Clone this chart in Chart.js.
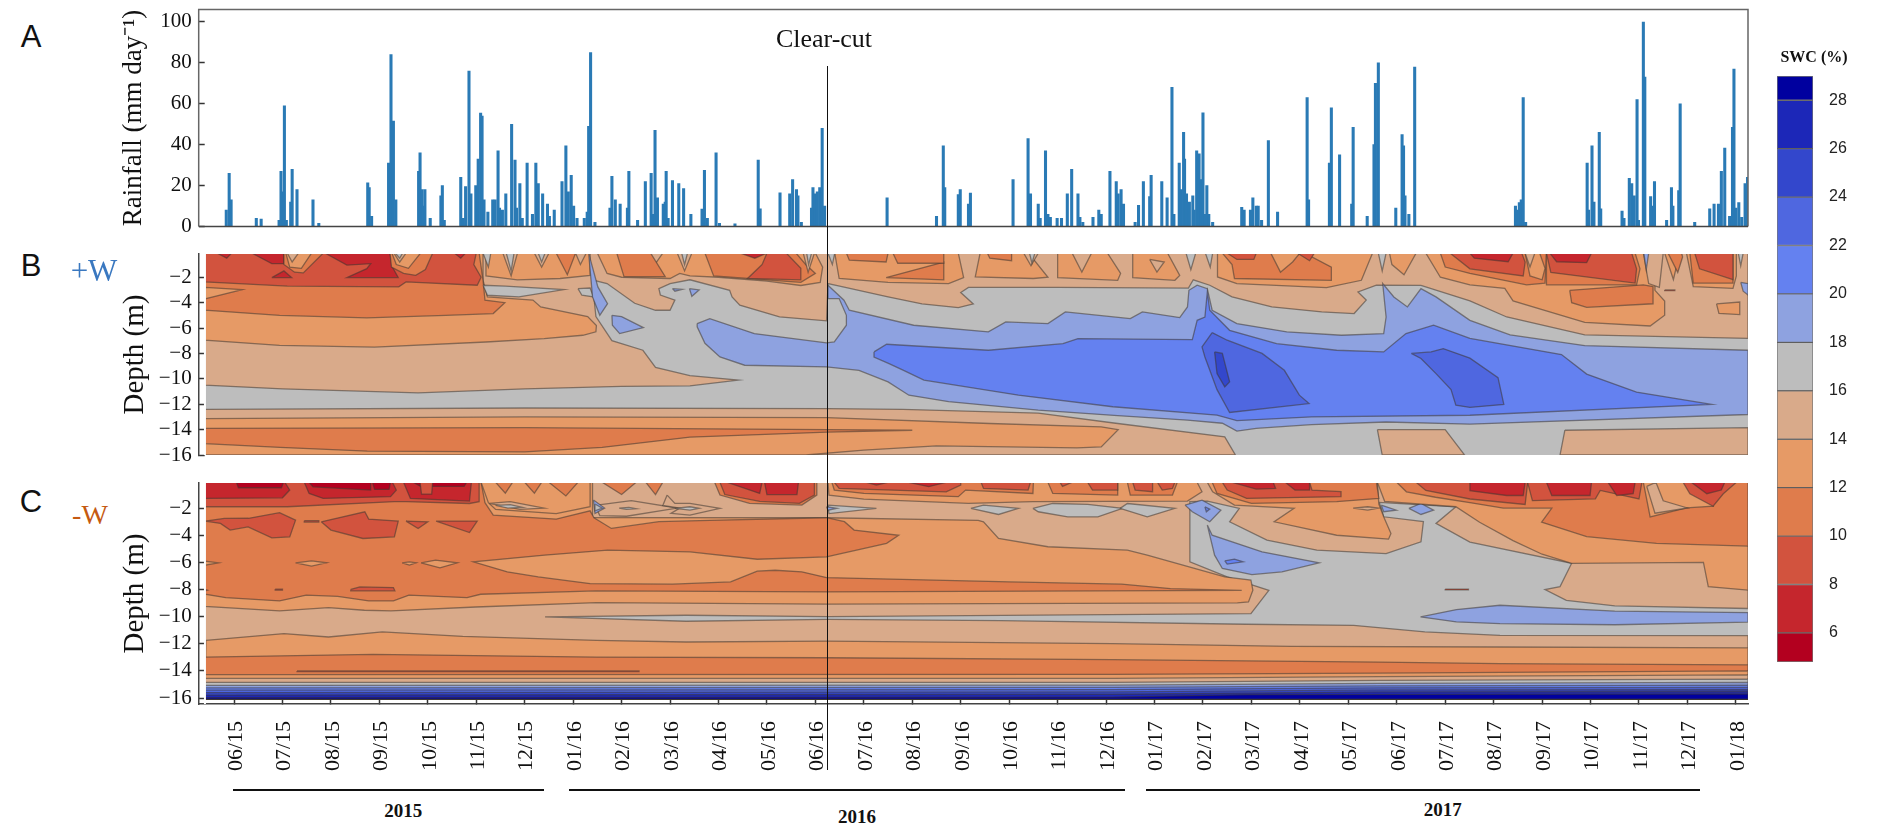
<!DOCTYPE html>
<html>
<head>
<meta charset="utf-8">
<script src="https://cdn.jsdelivr.net/npm/chart.js@4/dist/chart.umd.min.js"></script>
<style>
html, body { margin: 0; padding: 0; background: #fff; overflow: hidden; }
body { width: 1879px; height: 827px; position: relative; font-family: "Liberation Serif", serif; color: #111; }
canvas { position: absolute; }
.txt { position: absolute; white-space: nowrap; transform: translate(-50%, -50%); }
.bar { position: absolute; background: #111; }
</style>
</head>
<body>
<canvas id="rainChart" style="left:118px;top:0"></canvas>
<canvas id="plusChart" style="left:118px;top:244px"></canvas>
<canvas id="minusChart" style="left:118px;top:470px"></canvas>
<canvas id="scaleChart" style="left:1770px;top:60px"></canvas>

<div class="txt" style="left:31px;top:37px;font:31px 'Liberation Sans'">A</div>
<div class="txt" style="left:31px;top:266px;font:31px 'Liberation Sans'">B</div>
<div class="txt" style="left:31px;top:502px;font:31px 'Liberation Sans'">C</div>
<div class="txt" style="left:94px;top:271px;font-size:31px;color:#3a78c0">+W</div>
<div class="txt" style="left:90px;top:515px;font-size:28px;color:#c55a11">-W</div>
<div class="txt" style="left:824px;top:39px;font-size:26px">Clear-cut</div>
<div class="txt" style="left:1814px;top:57px;font-size:16px;font-weight:bold">SWC (%)</div>
<div id="yearText"></div>

<script>
// month axis: 0 = 06/15, one unit = one month
var monthLabels = ['06/15','07/15','08/15','09/15','10/15','11/15','12/15','01/16','02/16','03/16','04/16','05/16','06/16','07/16','08/16','09/16','10/16','11/16','12/16','01/17','02/17','03/17','04/17','05/17','06/17','07/17','08/17','09/17','10/17','11/17','12/17','01/18'];
var monthTicks = monthLabels.map(function (l, i) { return i; });
var rainTicks = [0, 20, 40, 60, 80, 100];
var depthTicks = [-16, -14, -12, -10, -8, -6, -4, -2];
var swcTicks = [6, 8, 10, 12, 14, 16, 18, 20, 22, 24, 26, 28];
var swcEdges = [4.8, 6, 8, 10, 12, 14, 16, 18, 20, 22, 24, 26, 28, 29];
var bandColors = ['#b3001f', '#c5262d', '#d2533e', '#df7c4c', '#e69a66', '#d9aa8a', '#bdbdbd', '#8ea2e0', '#6481f0', '#4f67e0', '#3347cc', '#1c27b8', '#00009f'];

var clearCutMonth = 12.24;
var yearNames = ['2015', '2016', '2017'];
var yearStart = [-0.03, 6.91, 18.82];
var yearEnd = [6.4, 18.4, 30.25];

var rainMonth = [-0.16,-0.10,-0.06,0.46,0.56,0.93,0.97,1.01,1.04,1.08,1.17,1.20,1.30,1.63,1.75,2.76,2.79,2.84,3.19,3.24,3.29,3.34,3.81,3.84,3.88,3.91,3.94,4.05,4.27,4.30,4.34,4.68,4.73,4.78,4.85,4.89,4.99,5.04,5.09,5.12,5.16,5.24,5.34,5.39,5.45,5.48,5.54,5.61,5.73,5.80,5.83,5.90,5.95,6.05,6.16,6.23,6.28,6.37,6.47,6.51,6.61,6.77,6.85,6.90,6.96,7.01,7.08,7.23,7.29,7.32,7.36,7.45,7.76,7.80,7.87,7.97,8.12,8.15,8.33,8.49,8.61,8.65,8.69,8.74,8.86,8.90,8.92,8.96,9.05,9.18,9.28,9.43,9.66,9.71,9.77,9.95,10.02,10.34,10.82,10.86,11.27,11.47,11.53,11.61,11.64,11.71,11.92,11.95,11.99,12.04,12.09,12.14,12.19,13.48,14.50,14.64,14.67,14.95,14.99,15.16,15.20,16.08,16.39,16.44,16.60,16.64,16.75,16.80,16.85,16.99,17.08,17.20,17.29,17.42,17.46,17.52,17.73,17.85,17.90,18.08,18.21,18.25,18.31,18.36,18.60,18.67,18.77,18.90,18.93,19.15,19.26,19.36,19.40,19.51,19.55,19.60,19.62,19.66,19.72,19.79,19.82,19.87,19.92,19.97,20.00,20.04,20.08,20.12,20.20,20.80,20.85,20.98,21.03,21.10,21.14,21.21,21.35,21.54,22.15,22.18,22.61,22.65,22.82,23.07,23.10,23.39,23.53,23.56,23.62,23.98,24.11,24.14,24.17,24.25,24.37,26.45,26.48,26.53,26.57,26.61,26.66,27.93,27.96,28.03,28.07,28.18,28.21,28.65,28.69,28.80,28.85,28.90,28.96,28.99,29.09,29.12,29.24,29.27,29.32,29.57,29.67,29.70,29.82,29.85,30.15,30.46,30.55,30.64,30.70,30.77,30.87,30.93,30.96,31.00,31.06,31.12,31.19,31.24];
var rainMm = [8,26,13,4,3.6,3,27,17,59,3,12,28,18,13,1.6,21.3,19,5,31,84,51.5,13,27,36,18,10,18,4,15,20,3,24,4,19.5,76,16,20,33,55.5,54,13,7,13,13,37,9,8,16,50,32.5,9,21,4,31,6,31,21,16,11,5,8,22,39.5,17,25,10,4,4,7,49,85,2,9,24.5,13,11,9,27,3,22,26,6,47,14,11,12,27,4,22.5,21,18.5,6,8.5,27.5,4,36,1.6,1.3,32.5,8.6,16.5,16,23,18,15,2,9,19,16,17,19,48,10,14,5,39.5,19,15.6,18,11,16.4,23,43,16,11,4,37,6,4.5,4,4,16,28,16,4.5,2,4.5,8,6,27,22,16,18,11,2,10.4,22,14.6,25,22,14,68,6,31,18,46,33,16,12,15,8,37,35.5,23,55.6,6,20,6,2,9.4,8,8,14,10,10,3,42,7,63,13,31,58,35,11,48.5,5,40,70,80,9,45,39.5,15,6,78,10,8,11.7,13,63,2,31,8,39.5,12,46,8.6,7.5,4,23.6,21,15,62,3,100,73,14.6,10,22,3,19,10,17.6,60,2,8.6,11,11,27,38.4,5,48.5,77,9,11.7,4.5,21,24];

// SWC contour regions: [lower band limit, [[month, depth], ...]], painted in order
var contourPlus = [
  [16, [[-0.6,-0.1],[31.25,-0.1],[31.25,-16],[-0.6,-16]]],
  [14, [[-0.6,-0.1],[-0.6,-10.5],[1,-10.8],[3.8,-11.1],[6,-10.8],[8,-10.6],[9.41,-10.55],[10.41,-10.1],[9.41,-9.75],[8.7,-9.1],[8.44,-7.75],[7.8,-7],[7.47,-5.1],[7.39,-2.2],[7.7,-2.5],[8.27,-4.05],[8.7,-4.6],[9,-4.6],[9.1,-3.8],[8.8,-3.4],[8.77,-2.9],[9,-2.5],[9.41,-2.2],[10.23,-3.03],[10.28,-3.55],[10.44,-4.2],[11.26,-5.13],[12.23,-5.44],[12.26,-2.5],[12.5,-2.7],[13.5,-3.55],[14.2,-4.1],[14.95,-4.4],[15.26,-4.1],[15,-3.2],[15.16,-2.8],[17,-2.8],[19.7,-2.85],[19.8,-2.2],[20.14,-2.63],[20.6,-3.55],[21.42,-4.34],[22.45,-4.73],[23.12,-4.86],[23.37,-3.8],[23.2,-3.16],[23.58,-2.63],[24.5,-2.64],[25.51,-3.87],[26.27,-5.13],[27.88,-6.54],[31.25,-6.82],[31.25,-0.1]]],
  [14, [[-0.6,-12.4],[6,-12.3],[12.24,-12.34],[13.8,-12.4],[16.6,-12.7],[18.2,-13.5],[20.45,-14.57],[20.67,-16],[-0.6,-16]]],
  [14, [[23.6,-14],[25,-14],[25.4,-16],[23.7,-16]]],
  [14, [[27.47,-14.05],[31.25,-13.85],[31.25,-16],[27.37,-16]]],
  [12, [[-0.6,-13.13],[6,-13],[12.24,-13.05],[15.6,-13.52],[17.9,-13.78],[18.25,-14],[17.9,-15.36],[17.4,-15.44],[14.5,-15.28],[13,-15.62],[11.8,-16],[-0.6,-16]]],
  [10, [[-0.6,-13.9],[6,-13.85],[12.24,-14],[14,-14.05],[12.24,-14.2],[9.41,-14.6],[7.6,-15.4],[6,-15.75],[2.75,-15.7],[0.95,-15.4],[-0.6,-15.1]]],
  // dry block before the first wet season
  [12, [[-0.6,-0.1],[-0.6,-6.96],[0.94,-7.36],[2.9,-7.5],[5.2,-7.1],[6.4,-6.83],[7.2,-6.57],[7.47,-6.3],[7.48,-5.8],[7.3,-5.1],[6.33,-4.34],[6.17,-3.8],[5.23,-3.55],[5.14,-2.24],[5.14,-0.1]]],
  [10, [[-0.6,-0.1],[-0.6,-4.6],[0.94,-5],[2.74,-5.2],[4.37,-5],[5.35,-4.86],[5.59,-4],[5.18,-3.8],[5.14,-2.24],[5.06,-0.1]]],
  [12, [[-0.6,-2.8],[0.17,-2.98],[-0.6,-3.7]]],
  [8, [[-0.6,-0.1],[-0.6,-2.37],[1.1,-2.7],[3.4,-2.76],[3.55,-2.37],[5.02,-2.63],[5.1,-2],[4.95,-1],[5,-0.1]]],
  [6, [[-0.35,-0.1],[-0.15,-0.5],[-0.05,-0.1]]],
  [6, [[0.37,-0.1],[0.78,-0.93],[1.03,-0.93],[1.03,-0.1]]],
  [6, [[0.78,-2.03],[1.19,-2.03],[1.03,-1.5]]],
  [6, [[1.88,-0.1],[2.33,-1.05],[2.82,-0.93],[2.74,-1.32],[2.33,-2.03],[3.39,-2.03],[3.27,-1.2],[3.22,-0.1]]],
  [6, [[4.55,-0.1],[4.68,-0.5],[4.78,-0.1]]],
  [10, [[1.03,-0.1],[1.03,-1],[1.25,-1.6],[1.43,-1.66],[1.84,-0.1]]],
  [12, [[1.07,-0.1],[1.15,-1.2],[1.39,-1.3],[1.6,-0.1]]],
  [14, [[1.1,-0.1],[1.2,-0.8],[1.33,-0.1]]],
  [10, [[3.22,-0.1],[3.25,-1.2],[3.5,-1.7],[3.75,-1.85],[3.95,-1.4],[4.1,-0.1]]],
  [12, [[3.26,-0.1],[3.35,-1],[3.6,-1.3],[3.85,-0.1]]],
  [14, [[3.3,-0.1],[3.42,-0.8],[3.55,-0.1]]],
  [16, [[3.33,-0.1],[3.42,-0.5],[3.48,-0.1]]],
  // rewetted top, 2016 dry season blocks
  [12, [[5.2,-0.1],[5.2,-1.9],[5.85,-2.2],[6.73,-2.1],[7.35,-1.85],[7.35,-0.1]]],
  [14, [[5.55,-0.1],[5.72,-1.9],[5.85,-0.1]]],
  [14, [[6.2,-0.1],[6.35,-1.2],[6.5,-0.1]]],
  [14, [[7.05,-0.1],[7.15,-1],[7.27,-0.1]]],
  [10, [[6.65,-0.1],[6.88,-1.8],[7.05,-0.1]]],
  [16, [[5.14,-0.1],[5.25,-1.2],[5.3,-0.1]]],
  [16, [[5.62,-0.1],[5.72,-1.5],[5.78,-0.1]]],
  [16, [[6.28,-0.1],[6.35,-0.8],[6.42,-0.1]]],
  [16, [[5.14,-2.63],[5.6,-2.7],[6.81,-2.97],[5.88,-3.55],[5.23,-3.42]]],
  [16, [[7.1,-2.9],[7.35,-2.85],[7.42,-3.55],[7.18,-3.42]]],
  [18, [[7.32,-0.1],[7.51,-2.76],[7.71,-4.08],[7.55,-5],[7.4,-3.55]]],
  [18, [[7.8,-5],[8,-5.1],[8.45,-5.97],[7.96,-6.44],[7.81,-5.78]]],
  [18, [[9.05,-2.9],[9.25,-2.95],[9.1,-3.1]]],
  [18, [[9.4,-2.9],[9.6,-3],[9.45,-3.5]]],
  [12, [[7.5,-0.1],[7.7,-1.7],[8,-2],[9,-2.1],[9.2,-1.7],[9.41,-1.9],[10,-2],[11,-2.3],[11.7,-2.65],[12.1,-2.4],[12.15,-1.2],[12,-0.1]]],
  [14, [[8.5,-0.1],[8.65,-1.2],[8.85,-0.1]]],
  [14, [[9.15,-0.1],[9.3,-1.5],[9.45,-0.1]]],
  [16, [[9.24,-0.1],[9.3,-1],[9.36,-0.1]]],
  [10, [[7.9,-0.1],[8.05,-1.95],[8.9,-1.95],[8.6,-0.1]]],
  [10, [[9.72,-0.1],[9.9,-1.9],[10.6,-2.1],[11.7,-2.4],[12,-1.7],[11.8,-1],[11.6,-0.1]]],
  [8, [[10.9,-1],[10.6,-2.1],[11.7,-2.2],[11.7,-1.3],[11.4,-0.1],[11,-0.1]]],
  [6, [[10.45,-0.1],[10.75,-0.5],[11,-0.1]]],
  [14, [[11.75,-0.1],[11.85,-1.6],[11.98,-0.1]]],
  [16, [[11.82,-0.1],[11.86,-1],[11.92,-0.1]]],
  [12, [[12.4,-0.1],[12.49,-2.1],[13.5,-2.4],[14.75,-2.5],[15.06,-2.03],[14.95,-0.1]]],
  [10, [[12.64,-0.1],[12.7,-0.66],[13.46,-0.8],[13.5,-0.1]]],
  [10, [[13.46,-2.03],[14.65,-2.2],[14.65,-0.8]]],
  [10, [[13.6,-0.1],[13.7,-0.9],[14.65,-0.9],[14.65,-0.1]]],
  [12, [[15.4,-0.1],[15.3,-1.98],[16.5,-2.1],[16.8,-2],[16.4,-0.1]]],
  [10, [[15.55,-0.1],[15.6,-0.5],[16.05,-0.7],[16.05,-0.1]]],
  [14, [[16.3,-0.1],[16.45,-1.1],[16.6,-0.1]]],
  [16, [[16.42,-0.1],[16.47,-0.9],[16.53,-0.1]]],
  [12, [[17,-0.1],[17,-2.03],[18.24,-2.24],[18.3,-1.7],[18.03,-0.1]]],
  [14, [[17.3,-0.1],[17.5,-1.6],[17.7,-0.1]]],
  [12, [[18.55,-0.1],[18.55,-2.03],[19.42,-2.24],[19.52,-1.85],[19.27,-0.1]]],
  [14, [[18.9,-0.6],[19.05,-1.6],[19.2,-0.8]]],
  [16, [[12.26,-0.1],[12.35,-1],[12.4,-0.1]]],
  [16, [[19.65,-0.1],[19.75,-1.4],[19.85,-0.1]]],
  [16, [[20.05,-0.1],[20.15,-1.2],[20.2,-0.1]]],
  [12, [[20.3,-0.1],[20.3,-1.98],[20.7,-2.5],[22.55,-2.82],[23.27,-2.24],[23.5,-0.1]]],
  [10, [[20.4,-0.1],[20.6,-1],[20.65,-2.1],[22.65,-2.24],[22.65,-1.2],[22.1,-0.1]]],
  [12, [[21.4,-0.1],[21.6,-1.6],[21.85,-0.8],[22,-0.1]]],
  [8, [[20.5,-0.1],[20.7,-0.6],[21.05,-0.6],[21.1,-0.1]]],
  [8, [[21.95,-0.1],[22.2,-0.7],[22.3,-0.1]]],
  [16, [[23.62,-0.1],[23.7,-1.5],[23.78,-0.1]]],
  [12, [[23.85,-0.1],[23.9,-1],[24.15,-1.8],[24.4,-0.1]]],
  // rising wet layers, painted from outer to inner
  [18, [[9.56,-5.65],[9.82,-5.26],[10.74,-6.44],[12.23,-7.17],[12.39,-7.1],[12.64,-5.78],[12.64,-5],[12.49,-3.68],[12.26,-3.68],[12.26,-2.63],[12.59,-3.81],[12.7,-4.6],[14.03,-5.78],[15.57,-6.3],[15.93,-5.52],[16.8,-5.65],[17.16,-4.73],[18.5,-5.26],[18.75,-4.73],[19.52,-5.18],[19.68,-4.34],[19.71,-3.03],[19.88,-2.63],[20.09,-2.9],[20.19,-4.6],[20.7,-5.65],[21.73,-6.3],[22.86,-6.57],[23.73,-6.44],[23.78,-5.13],[23.71,-2.5],[23.94,-3.55],[24.22,-4.34],[24.5,-2.9],[24.81,-3.55],[25.51,-5.4],[26.34,-6.54],[27.88,-7.38],[31.25,-7.75],[31.25,-12.81],[25.51,-13.57],[23.78,-13.4],[22.24,-13.6],[21.1,-13.9],[20.7,-14.12],[20.4,-13.5],[19.68,-13.26],[18.24,-12.9],[16.6,-12.47],[14.75,-11.8],[13.93,-11.29],[13.5,-10.24],[12.9,-9.33],[12.23,-9.06],[10.54,-8.93],[10.03,-8.28],[9.72,-7.2],[9.56,-5.9]]],
  [20, [[13.21,-7.88],[13.47,-7.28],[15.57,-7.75],[17.11,-7.23],[17.42,-6.83],[19.78,-6.91],[19.88,-5.39],[20.04,-5.13],[20.09,-3.16],[20.14,-4.6],[20.55,-6.18],[21.52,-7.23],[22.76,-7.75],[23.73,-7.88],[24.19,-6.44],[24.76,-5.78],[25.51,-6.82],[27.4,-8.09],[27.92,-9.63],[28.95,-11.04],[30.5,-12.02],[25.51,-12.87],[22.24,-13],[20.7,-13.3],[20.29,-12.86],[18.14,-12.2],[16.19,-11.29],[14.24,-10.1],[13.82,-9.33],[13.52,-8.8],[13.21,-8.28]]],
  [22, [[20.19,-6.36],[19.98,-7.49],[20.04,-8.28],[20.29,-10.85],[20.55,-12.65],[22.19,-11.95],[21.99,-11.29],[21.68,-9.33],[21.22,-8],[20.5,-6.96]]],
  [22, [[24.3,-8],[24.5,-8.4],[24.81,-9.59],[25.12,-10.85],[25.22,-12.08],[25.51,-12.25],[26.21,-12.02],[26.09,-9.91],[25.51,-8.37],[24.96,-7.62],[24.71,-7.88]]],
  [24, [[20.24,-7.88],[20.4,-8],[20.55,-10.24],[20.45,-10.64],[20.29,-9.59]]],
  // 2017 block at the right end
  [12, [[24.6,-0.1],[24.9,-2],[25.51,-2.6],[26.23,-2.88],[26.4,-3.87],[27.88,-5.56],[29.23,-5.84],[29.53,-4.99],[29.53,-3.87],[29.33,-3.03],[29.33,-0.1]]],
  [10, [[24.9,-0.1],[25,-1.2],[25.51,-1.7],[26.68,-2.6],[27.06,-2.46],[27.09,-0.1]]],
  [8, [[25.1,-0.1],[25.51,-1.34],[26.61,-1.9],[26.65,-0.8],[26.58,-0.1]]],
  [6, [[25.51,-0.1],[25.6,-0.5],[26.3,-0.78],[26.4,-0.1]]],
  [12, [[26.65,-0.1],[26.75,-1.9],[27,-2.2],[27.06,-1.3],[26.95,-0.1]]],
  [14, [[26.65,-0.1],[26.75,-1.2],[26.85,-0.1]]],
  [10, [[27.57,-3.03],[27.61,-4],[27.92,-4.37],[29.29,-4.09],[29.29,-2.74],[29.09,-2.6]]],
  [10, [[27.09,-0.1],[27.09,-2.6],[28.95,-2.6],[29.02,-1.34],[28.92,-0.1]]],
  [8, [[27.09,-0.1],[27.18,-1.62],[28.92,-2.46],[28.95,-1.34],[28.85,-0.1]]],
  [6, [[27.16,-0.1],[27.3,-0.78],[27.92,-0.85],[28.02,-0.1]]],
  [14, [[29.09,-0.1],[29.2,-2.5],[29.42,-2.8],[29.5,-0.1]]],
  [18, [[29.1,-0.1],[29.15,-1.4],[29.2,-0.1]]],
  [12, [[29.53,-0.1],[29.71,-2.18],[29.84,-0.1]]],
  [10, [[29.6,-0.1],[29.8,-1.62],[29.9,-0.4],[29.88,-0.1]]],
  [12, [[29.98,-0.1],[30.12,-2.74],[30.94,-2.88],[31.01,-1.9],[31.01,-0.1]]],
  [10, [[30.05,-0.1],[30.12,-2.46],[30.94,-2.46],[30.94,-0.1]]],
  [8, [[30.15,-0.1],[30.25,-1.34],[30.94,-2.18],[30.94,-0.1]]],
  [16, [[31.05,-0.1],[31.1,-1.1],[31.15,-0.1]]],
  [18, [[31.1,-2.4],[31.25,-2.5],[31.25,-3.4],[31.15,-3.1]]],
  [12, [[30.6,-4.1],[31.08,-3.95],[31.08,-4.94],[30.65,-4.85]]],
  [8, [[29.53,-3],[29.74,-3],[29.74,-3.06],[29.53,-3.06]]]
];

var contourMinus = [
  [16, [[-0.6,-0.1],[31.25,-0.1],[31.25,-16.08],[-0.6,-16.08]]],
  [14, [[-0.6,-0.1],[-0.6,-16.08],[31.25,-16.08],[31.25,-11.4],[26.13,-11.38],[24.58,-11.13],[23.11,-10.64],[20.9,-10.56],[15.83,-10.3],[12.25,-10.2],[9.33,-10.34],[6.42,-10.02],[9.33,-9.9],[12.25,-10],[20.99,-9.78],[21.36,-8.06],[20.5,-7.07],[19.73,-5.96],[19.73,-3.01],[19.73,-1.53],[20.09,-1.48],[20.75,-2.02],[20.55,-3.01],[21.32,-4.36],[22.35,-5.1],[23.78,-5.35],[24.5,-4.48],[24.55,-3],[23.73,-2.64],[23.64,-1.58],[25.22,-1.9],[24.81,-3.13],[25.51,-4.5],[27.61,-6.07],[27.37,-7.79],[27.06,-8],[27.5,-8.8],[28.5,-9.2],[31.25,-9.4],[31.25,-0.1]]],
  [18, [[24.49,-10.02],[25.23,-9.48],[26.13,-9.16],[28.5,-9.6],[31.25,-9.7],[31.25,-10.4],[28.5,-10.6],[26.13,-10.52],[25.23,-10.39]]],
  [8, [[25,-7.97],[25.48,-7.97],[25.48,-8.03],[25,-8.03]]],
  [12, [[-0.58,-11.75],[1.03,-11.25],[1.95,-11.5],[3.06,-11.13],[4.72,-11.45],[7.48,-11.75],[9.33,-11.87],[12.25,-11.8],[18.13,-11.99],[21.82,-12.19],[26.13,-12.24],[31.25,-12.3],[31.25,-16.08],[-0.6,-16.08]]],
  [10, [[-0.6,-12.98],[2.87,-12.78],[7.48,-12.98],[12.25,-13.03],[18.13,-13.17],[23.66,-13.35],[26.13,-13.47],[31.25,-13.55],[31.25,-16.08],[-0.6,-16.08]]],
  [8, [[1.3,-14],[8.36,-14],[8.36,-14.06],[1.3,-14.06]]],
  [12, [[-0.6,-14.27],[18.13,-14.26],[23.66,-14.16],[31.25,-14],[31.25,-16.08],[-0.6,-16.08]]],
  [14, [[-0.6,-14.55],[18.13,-14.55],[23.66,-14.42],[31.25,-14.3],[31.25,-16.08],[-0.6,-16.08]]],
  [16, [[-0.6,-14.85],[18.13,-14.85],[23.66,-14.7],[31.25,-14.6],[31.25,-16.08],[-0.6,-16.08]]],
  [18, [[-0.6,-15.07],[18.13,-15.05],[23.66,-14.92],[31.25,-14.85],[31.25,-16.08],[-0.6,-16.08]]],
  [20, [[-0.6,-15.25],[18.13,-15.22],[23.66,-15.1],[31.25,-15.05],[31.25,-16.08],[-0.6,-16.08]]],
  [22, [[-0.6,-15.42],[18.13,-15.38],[23.66,-15.25],[31.25,-15.22],[31.25,-16.08],[-0.6,-16.08]]],
  [24, [[-0.6,-15.6],[18.13,-15.55],[23.66,-15.4],[31.25,-15.38],[31.25,-16.08],[-0.6,-16.08]]],
  [26, [[-0.6,-15.78],[18.13,-15.72],[23.66,-15.55],[31.25,-15.52],[31.25,-16.08],[-0.6,-16.08]]],
  [28, [[-0.6,-15.97],[18.13,-15.93],[20.9,-15.75],[31.25,-15.7],[31.25,-16.08],[-0.6,-16.08]]],
  // orange layer, then the 10-12 core above it
  [12, [[-0.6,-0.1],[-0.6,-9.24],[0.94,-9.58],[1.95,-9.34],[2.69,-9.53],[3.24,-9.58],[4.99,-9.29],[7.48,-8.97],[12.25,-9.08],[20.71,-8.99],[20.94,-8.92],[21.03,-8.06],[20.99,-7.3],[20.45,-7.07],[18.85,-5.47],[18.44,-5.1],[16.8,-4.85],[15.78,-4.24],[15.47,-3.01],[15.36,-2.9],[12.23,-2.71],[7.4,-2.7],[7.4,-0.1]]],
  [10, [[-0.6,-0.1],[-0.6,-8.35],[-0.17,-8.6],[0.94,-8.84],[1.49,-8.42],[2.14,-8.5],[2.78,-8.84],[3.29,-8.84],[3.61,-8.42],[4.81,-8.6],[5.09,-8.35],[7.48,-8.1],[12.23,-8.18],[20.8,-8.06],[19.33,-7.93],[18.32,-7.61],[16.01,-7.44],[12.23,-7.12],[11.72,-6.7],[11.17,-6.58],[10.8,-6.65],[10.25,-7.44],[9.05,-7.61],[7.35,-7.56],[6.28,-7.07],[5.64,-6.7],[4.94,-5.96],[6.41,-5.47],[7.71,-5.1],[9.41,-5.22],[10.8,-5.77],[12.23,-5.59],[13.47,-4.6],[13.72,-4],[12.8,-3.62],[12.6,-3],[12.23,-2.71],[9.82,-2.9],[8.77,-3],[7.79,-3.5],[7.43,-2.71],[7.35,-2.2],[6.65,-2.81],[5.35,-2.52],[5.18,-1.6],[5.1,-0.1]]],
  [8, [[-0.6,-8],[-0.55,-8.05],[-0.6,-8.1]]],
  [8, [[0.85,-7.97],[1,-7.97],[1,-8.05],[0.85,-8.05]]],
  [8, [[2.41,-8],[2.6,-7.81],[3.29,-7.86],[3.32,-8.1],[2.41,-8.1]]],
  [12, [[-0.6,-5.91],[-0.32,-6.03],[-0.6,-6.21]]],
  [12, [[1.27,-6.03],[1.6,-5.89],[1.91,-6.03],[1.6,-6.28]]],
  [12, [[3.47,-6.03],[3.62,-5.96],[3.76,-6.03],[3.62,-6.2]]],
  [12, [[3.86,-6.03],[4.16,-5.84],[4.61,-6.03],[4.25,-6.4]]],
  [8, [[-0.6,-2.96],[-0.2,-2.76],[0.3,-2.75],[0.94,-2.34],[1.27,-2.89],[1.15,-4.12],[0.78,-4.19],[0.29,-3.38],[-0.08,-3.62],[-0.28,-3.13]]],
  [8, [[1.45,-2.93],[1.75,-2.93],[1.75,-3.03],[1.45,-3.03]]],
  [8, [[1.8,-3.01],[2.7,-2.27],[2.78,-2.81],[3.39,-2.96],[3.31,-4.12],[2.66,-4.24],[2,-3.62]]],
  [8, [[3.55,-2.96],[4,-3.01],[3.8,-3.5]]],
  [8, [[4.17,-2.96],[5.02,-2.96],[4.86,-3.8]]],
  // red surface layer, first dry season
  [8, [[-0.6,-0.1],[-0.6,-1.9],[1.1,-1.9],[3.31,-1.53],[3.55,-1.53],[4.86,-1.66],[5.06,-1.53],[5.06,-0.1]]],
  [6, [[-0.6,-0.1],[-0.6,-1.29],[1,-1.24],[1.15,-0.67],[1.05,-0.1]]],
  [6, [[1.45,-0.1],[1.55,-0.92],[1.84,-1.29],[3.23,-1.16],[3.35,-0.67],[3.27,-0.1]]],
  [6, [[3.5,-0.1],[3.64,-1.29],[4.86,-1.48],[4.9,-0.1]]],
  [4.8, [[0.05,-0.1],[0.09,-0.5],[0.98,-0.5],[1.02,-0.1]]],
  [4.8, [[1.55,-0.1],[1.63,-0.43],[2.82,-0.67],[2.82,-0.1]]],
  [4.8, [[2.86,-0.1],[2.9,-0.62],[3.2,-0.62],[3.23,-0.1]]],
  [4.8, [[3.7,-0.1],[3.85,-0.4],[4.75,-0.4],[4.8,-0.1]]],
  [8, [[3.84,-0.1],[3.87,-0.97],[4.08,-0.97],[4.1,-0.1]]],
  // between first crack and clear-cut
  [12, [[5.1,-0.1],[5.25,-1.6],[5.4,-2.1],[6.65,-2.4],[7.35,-1.9],[7.35,-0.1]]],
  [14, [[5.27,-1.65],[5.7,-1.53],[6.4,-2],[5.9,-2.1]]],
  [16, [[5.4,-1.8],[5.7,-1.75],[5.95,-1.95],[5.65,-2]]],
  [10, [[5.4,-0.1],[5.6,-0.9],[5.75,-0.1]]],
  [10, [[6,-0.1],[6.2,-0.9],[6.35,-0.1]]],
  [10, [[6.5,-0.1],[6.85,-1.1],[7.1,-0.1]]],
  [14, [[7.45,-1.8],[8.2,-1.45],[9.15,-2],[8.1,-2.6],[7.55,-2.55]]],
  [16, [[7.95,-2],[8.15,-1.95],[8.3,-2.05],[8.1,-2.1]]],
  [18, [[7.42,-1.4],[7.65,-2],[7.45,-2.4]]],
  [16, [[7.45,-1.7],[7.6,-2],[7.45,-2.2]]],
  [14, [[8.94,-1.04],[9.1,-1.65],[9.41,-1.65],[10.03,-2.02],[9.41,-2.52],[9.02,-2.39],[9.2,-2],[8.85,-1.8]]],
  [16, [[9.1,-2.02],[9.41,-1.9],[9.6,-2.02],[9.41,-2.15]]],
  [10, [[7.6,-0.1],[8,-1],[8.3,-0.1]]],
  [10, [[8.5,-0.1],[8.7,-1],[8.85,-0.1]]],
  [10, [[9.92,-0.1],[10.03,-1.04],[10.64,-1.65],[11.72,-1.78],[12.03,-1.04],[12.03,-0.1]]],
  [8, [[10.03,-0.1],[10.13,-1],[10.85,-1.5],[11.67,-1.65],[11.98,-1.04],[11.98,-0.1]]],
  [6, [[10.95,-0.1],[11,-1],[11.62,-1],[11.65,-0.1]]],
  [6, [[10.18,-0.1],[10.85,-0.92],[10.9,-0.1]]],
  // after clear-cut
  [12, [[12.26,-0.1],[12.28,-1.04],[13,-1.34],[15.16,-1.65],[16.49,-1.53],[19.68,-1.48],[19.98,-0.79],[19.88,-0.1]]],
  [10, [[12.34,-0.1],[12.39,-0.67],[13,-0.92],[14.95,-1.16],[15.1,-0.67],[16.49,-0.92],[16.5,-0.1]]],
  [10, [[16.8,-0.1],[16.9,-0.92],[18.24,-1.04],[18.24,-0.1]]],
  [10, [[18.44,-0.1],[18.5,-1.04],[19.37,-1.04],[19.47,-0.1]]],
  [8, [[12.39,-0.1],[12.49,-0.55],[14.7,-0.8],[15,-0.3],[15,-0.1]]],
  [8, [[15.42,-0.1],[15.47,-0.55],[16.39,-0.67],[16.44,-0.1]]],
  [8, [[17.05,-0.1],[17.1,-0.4],[17.3,-0.1]]],
  [8, [[17.62,-0.1],[17.72,-0.67],[18.24,-0.67],[18.24,-0.1]]],
  [8, [[18.55,-0.1],[18.6,-0.67],[18.96,-0.79],[18.96,-0.1]]],
  [8, [[19.06,-0.1],[19.16,-0.67],[19.37,-0.55],[19.42,-0.1]]],
  [6, [[13.05,-0.1],[13.26,-0.3],[13.5,-0.1]]],
  [6, [[13.92,-0.1],[14.34,-0.42],[14.7,-0.1]]],
  [16, [[12.26,-1.78],[13.26,-2.02],[12.28,-2.4]]],
  [18, [[12.23,-1.9],[12.44,-2.02],[12.26,-2.15]]],
  [16, [[15.21,-2.02],[15.47,-1.78],[16.19,-2.02],[15.78,-2.47]]],
  [16, [[16.49,-2.02],[16.9,-1.66],[17.62,-1.73],[18.34,-2.02],[17.83,-2.64],[17.21,-2.64],[16.6,-2.27]]],
  [16, [[18.29,-2.02],[18.44,-1.66],[19.42,-2.02],[18.85,-2.64]]],
  // wet fingers under the 2017 season
  [18, [[19.63,-1.78],[19.98,-1.41],[20.37,-2.15],[20.14,-3.01],[19.78,-2.27]]],
  [20, [[20.04,-1.9],[20.14,-2.07],[20.07,-2.27]]],
  [18, [[20.09,-3.25],[20.19,-4],[21.22,-5.22],[22.4,-6.03],[21.63,-6.7],[21.01,-6.9],[20.4,-6.45],[20.24,-5.47]]],
  [20, [[20.45,-5.89],[20.65,-5.76],[20.83,-5.96],[20.5,-6.13]]],
  [18, [[23.68,-1.78],[23.99,-2.15],[23.73,-2.27]]],
  [18, [[24.25,-2.02],[24.5,-1.66],[24.76,-2.15],[24.5,-2.47]]],
  // 2017 blocks
  [12, [[20.09,-0.1],[20.2,-0.8],[20.65,-1.78],[21.88,-2.02],[21.47,-3.01],[22.76,-4],[23.83,-4.29],[23.88,-3.87],[23.73,-2.64],[23.63,-1.7],[23.6,-0.1]]],
  [14, [[23.1,-2],[23.4,-1.9],[23.62,-2],[23.4,-2.15]]],
  [10, [[20.19,-0.1],[20.29,-0.92],[21,-1.65],[22.76,-1.53],[23.63,-1.29],[23.58,-0.1]]],
  [8, [[20.4,-0.1],[20.5,-0.67],[20.9,-1.29],[22.85,-1.16],[22.85,-0.79],[22.25,-0.67],[22.2,-0.1]]],
  [6, [[20.6,-0.1],[21.1,-0.6],[21.5,-0.55],[21.45,-0.1]]],
  [6, [[21.7,-0.1],[21.9,-0.67],[22.2,-0.67],[22.2,-0.1]]],
  [12, [[23.6,-0.1],[23.75,-1.5],[25.22,-1.9],[25.71,-3.04],[26.4,-4.4],[27,-5.4],[27.61,-6.07],[30.33,-6],[30.43,-7.79],[31.25,-8.05],[31.25,-0.1]]],
  [10, [[24,-0.1],[24.2,-0.8],[24.8,-1.2],[25.51,-1.6],[26.2,-2],[27.2,-2],[26.99,-3.04],[27.92,-4.1],[29.36,-4.6],[31.25,-4.8],[31.25,-0.1]]],
  [8, [[24.4,-0.1],[24.6,-0.7],[25.51,-1.33],[26.65,-1.73],[26.7,-0.2],[26.7,-0.1]]],
  [6, [[25.51,-0.1],[25.51,-0.72],[26.27,-1.07],[26.61,-1.07],[26.65,-0.1]]],
  [8, [[26.7,-0.1],[26.8,-1.45],[28.1,-1.32],[28.2,-0.7],[29,-1.33],[29.06,-0.1]]],
  [6, [[27.09,-0.1],[27.2,-1.07],[27.99,-1.07],[28.02,-0.1]]],
  [6, [[28.36,-0.1],[28.54,-1.07],[28.88,-0.94],[28.92,-0.1]]],
  [12, [[29.09,-0.1],[29.23,-2.65],[29.98,-1.99],[30.53,-1.86],[30.2,-0.1]]],
  [14, [[29.16,-0.4],[29.33,-2.38],[30.0,-1.99],[29.5,-1.46],[29.35,-0.1]]],
  [8, [[29.91,-0.1],[30.05,-0.94],[30.53,-1.86],[30.74,-0.94],[31.01,-0.1]]],
  [6, [[30.08,-0.1],[30.4,-0.94],[30.7,-0.67],[30.77,-0.1]]]
];

var lineColor = 'rgba(62,55,50,0.55)';
var panelStart = -0.6;

function bandColor(level) {
  return bandColors[swcEdges.indexOf(level)];
}

function contourDatasets(list) {
  return list.map(function (item, i) {
    var pts = item[1].map(function (p) { return { x: p[0], y: p[1] }; });
    pts.push(pts[0]);
    return {
      data: pts,
      showLine: true,
      fill: 'shape',
      backgroundColor: bandColor(item[0]),
      borderColor: i === 0 ? bandColor(item[0]) : lineColor,
      borderWidth: 1.3,
      pointRadius: 0,
      order: list.length - i
    };
  });
}

function setCanvas(id, w, h) {
  var c = document.getElementById(id);
  c.width = w;
  c.height = h;
  c.style.width = w + 'px';
  c.style.height = h + 'px';
  return c;
}

var serif = 'Liberation Serif';
var axisWidth = 80.7;
var tickColor = '#333';
var monthMin = -0.729;
var monthMax = 31.25;

// fixed axis sizes so the three panels line up; the zero paddings stop labels from moving the plot area
function fitAxis(w, h) {
  return function (axis) {
    if (w) axis.width = w;
    if (h) axis.height = h;
    axis.paddingTop = 0;
    axis.paddingBottom = 0;
    axis.paddingLeft = 0;
    axis.paddingRight = 0;
  };
}
function setTicks(values) {
  return function (axis) {
    axis.ticks = values.map(function (v) { return { value: v }; });
  };
}
function minusLabel(v) {
  return v < 0 ? '\u2212' + (-v) : '' + v;
}

function yAxis(min, max, ticks, title, titleSize, top) {
  return {
    min: min,
    max: max,
    afterFit: fitAxis(axisWidth),
    afterBuildTicks: setTicks(ticks),
    border: { display: !top, color: '#444', width: 1.5 },
    grid: { drawOnChartArea: false, tickLength: -6, color: tickColor, tickWidth: 1.5 },
    ticks: { color: '#111', padding: 13, autoSkip: false, font: { family: serif, size: 21 }, callback: minusLabel },
    title: { display: true, text: title, color: '#111', padding: 0, font: { family: serif, size: titleSize } }
  };
}

var frame = {
  id: 'frame',
  afterDraw: function (chart) {
    var a = chart.chartArea, ctx = chart.ctx;
    ctx.save();
    ctx.strokeStyle = '#666';
    ctx.lineWidth = 1.5;
    ctx.beginPath();
    ctx.moveTo(a.left, a.bottom);
    ctx.lineTo(a.left, a.top);
    ctx.lineTo(a.right, a.top);
    ctx.lineTo(a.right, a.bottom);
    ctx.stroke();
    ctx.strokeStyle = '#444';
    ctx.beginPath();
    ctx.moveTo(a.left, a.bottom);
    ctx.lineTo(a.right, a.bottom);
    ctx.stroke();
    ctx.restore();
  }
};

// hides the contour stroke that runs along the left edge of a panel
var edgeMask = {
  id: 'edgeMask',
  afterDatasetsDraw: function (chart) {
    var a = chart.chartArea, ctx = chart.ctx;
    ctx.save();
    ctx.fillStyle = '#fff';
    ctx.fillRect(chart.scales.x.getPixelForValue(panelStart) - 1, a.top, 2, a.height);
    ctx.restore();
  }
};

Chart.defaults.animation = false;
Chart.defaults.responsive = false;
Chart.defaults.devicePixelRatio = 1;
Chart.defaults.plugins.legend.display = false;
Chart.defaults.plugins.tooltip.enabled = false;

var rainChart = new Chart(setCanvas('rainChart', 1634, 240), {
  type: 'bar',
  data: {
    datasets: [{
      data: rainMonth.map(function (m, i) { return { x: m, y: rainMm[i] }; }),
      backgroundColor: '#2a7ab5',
      barThickness: 2.4
    }]
  },
  options: {
    layout: { autoPadding: false, padding: { top: 9.5, bottom: 13.5, right: 4 } },
    scales: {
      x: { type: 'linear', offset: false, display: false, min: monthMin, max: monthMax },
      y: yAxis(0, 106.1, rainTicks, 'Rainfall (mm day\u207B\u00B9)', 27, true)
    }
  },
  plugins: [frame]
});

var plusChart = new Chart(setCanvas('plusChart', 1634, 224), {
  type: 'scatter',
  data: { datasets: contourDatasets(contourPlus) },
  options: {
    layout: { autoPadding: false, padding: { top: 10, bottom: 13, right: 4 } },
    scales: {
      x: { type: 'linear', display: false, min: monthMin, max: monthMax },
      y: yAxis(-16, -0.17, depthTicks, 'Depth (m)', 29)
    }
  },
  plugins: [edgeMask]
});

var minusChart = new Chart(setCanvas('minusChart', 1634, 320), {
  type: 'scatter',
  data: { datasets: contourDatasets(contourMinus) },
  options: {
    layout: { autoPadding: false, padding: { top: 13, right: 4 } },
    scales: {
      x: {
        type: 'linear',
        min: monthMin,
        max: monthMax,
        afterFit: fitAxis(0, 86),
        afterBuildTicks: setTicks(monthTicks),
        border: { color: '#444', width: 1.5 },
        grid: { drawOnChartArea: false, tickLength: -6, color: tickColor, tickWidth: 1.5 },
        ticks: {
          color: '#111',
          autoSkip: false,
          minRotation: 90,
          maxRotation: 90,
          padding: 23,
          labelOffset: 2,
          font: { family: serif, size: 22 },
          callback: function (v, i) { return monthLabels[i]; }
        }
      },
      y: yAxis(-16.44, -0.15, depthTicks, 'Depth (m)', 29)
    }
  },
  plugins: [edgeMask]
});

var scaleChart = new Chart(setCanvas('scaleChart', 109, 610), {
  type: 'bar',
  data: {
    labels: ['SWC'],
    datasets: bandColors.map(function (c, i) {
      return {
        data: [[swcEdges[i], swcEdges[i + 1]]],
        backgroundColor: c,
        borderColor: 'rgba(60,60,60,0.7)',
        borderWidth: 1,
        borderSkipped: false,
        grouped: false,
        barPercentage: 1,
        categoryPercentage: 1
      };
    })
  },
  options: {
    layout: { autoPadding: false, padding: { top: 16, bottom: 8, left: 7 } },
    scales: {
      x: { display: false },
      y: {
        position: 'right',
        min: 4.8,
        max: 29,
        afterFit: fitAxis(66),
        afterBuildTicks: setTicks(swcTicks),
        border: { display: false },
        grid: { display: false },
        ticks: { color: '#222', padding: 8, autoSkip: false, font: { family: 'Liberation Sans', size: 16 } }
      }
    }
  }
});

// clear-cut marker and the year brackets follow the month axis
var xScale = rainChart.scales.x;
function addBar(left, top, w, h) {
  var d = document.createElement('div');
  d.className = 'bar';
  d.style.left = left + 'px';
  d.style.top = top + 'px';
  d.style.width = w + 'px';
  d.style.height = h + 'px';
  document.body.appendChild(d);
  return d;
}
addBar(118 + xScale.getPixelForValue(clearCutMonth), 66, 1, 704);

var yearTop = [811, 817, 810];
var holder = document.getElementById('yearText');
yearNames.forEach(function (name, i) {
  var x1 = 118 + xScale.getPixelForValue(yearStart[i]);
  var x2 = 118 + xScale.getPixelForValue(yearEnd[i]);
  addBar(x1, 789, x2 - x1, 2);
  var t = document.createElement('div');
  t.className = 'txt';
  t.textContent = name;
  t.style.left = ((x1 + x2) / 2 + (i === 0 ? 15 : i === 1 ? 10 : 20)) + 'px';
  t.style.top = yearTop[i] + 'px';
  t.style.fontSize = '19px';
  t.style.fontWeight = 'bold';
  holder.appendChild(t);
});
</script>
</body>
</html>
